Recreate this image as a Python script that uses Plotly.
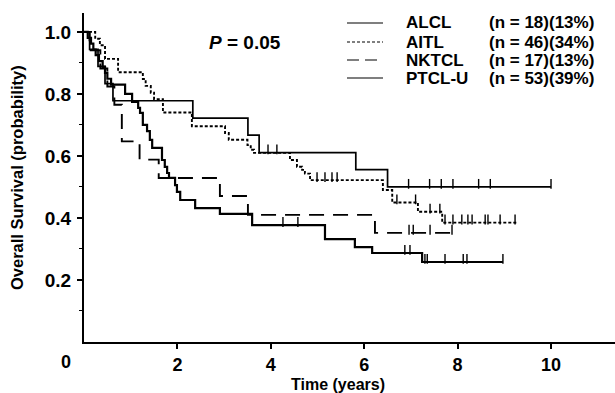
import numpy as np
import plotly.graph_objects as go

# ---------------- data ----------------
alcl_t = [0, 0.12, 0.3, 0.45, 0.62, 2.33, 3.51, 3.75, 5.82, 6.5]
alcl_s = [1.0, 0.944, 0.889, 0.833, 0.778, 0.722, 0.667, 0.611, 0.556, 0.50]
alcl_end = 10.0
alcl_cens = [3.94, 4.13, 6.95, 7.4, 7.65, 7.9, 8.45, 8.7, 10.0]

aitl_t = [0, 0.24, 0.34, 0.45, 0.73, 1.26, 1.32, 1.43, 1.5, 1.69, 2.31, 3.02, 3.1,
          3.5, 3.57, 3.64, 4.41, 4.56, 4.67, 4.73, 4.84, 6.4, 6.6, 7.15, 7.67]
aitl_s = [1.0, 0.978, 0.957, 0.913, 0.87, 0.848, 0.826, 0.804, 0.783, 0.74, 0.696, 0.674, 0.652,
          0.635, 0.62, 0.61, 0.587, 0.565, 0.555, 0.543, 0.522, 0.49, 0.45, 0.42, 0.385]
aitl_end = 9.28
aitl_cens = [4.99, 5.16, 5.31, 5.42, 6.7, 7.1, 7.41, 7.62, 7.73, 7.9, 8.09, 8.22,
             8.31, 8.59, 8.65, 8.91, 9.23]

nk_t = [0, 0.12, 0.35, 0.5, 0.65, 0.81, 1.19, 1.6, 2.91, 3.51, 6.23]
nk_s = [1.0, 0.941, 0.882, 0.824, 0.765, 0.647, 0.588, 0.529, 0.471, 0.41, 0.352]
nk_end = 7.88
nk_cens = [6.96, 7.05, 7.41, 7.88]

pt_t = [0, 0.08, 0.15, 0.2, 0.25, 0.32, 0.4, 0.45, 0.5, 0.58, 0.88, 1.03, 1.16, 1.2,
        1.26, 1.35, 1.41, 1.46, 1.67, 1.73, 1.78, 1.82, 1.95, 1.99, 2.06, 2.38, 2.91,
        3.6, 5.16, 5.8, 6.17, 7.24]
pt_s = [1.0, 0.981, 0.962, 0.943, 0.925, 0.906, 0.887, 0.868, 0.849, 0.83, 0.80, 0.774,
        0.755, 0.739, 0.70, 0.68, 0.652, 0.626, 0.587, 0.565, 0.545, 0.529, 0.506, 0.484,
        0.458, 0.432, 0.413, 0.377, 0.332, 0.306, 0.287, 0.258]
pt_end = 8.97
pt_cens = [4.26, 4.58, 6.87, 6.98, 7.3, 7.35, 7.73, 8.12, 8.2, 8.97]

series_names = ["ALCL", "AITL", "NKTCL", "PTCL-U"]
series_counts = ["(n = 18)(13%)", "(n = 46)(34%)", "(n = 17)(13%)", "(n = 53)(39%)"]
x_ticks = [2, 4, 6, 8, 10]
y_ticks = [0.2, 0.4, 0.6, 0.8, 1.0]
y_minor = [0.1, 0.3, 0.5, 0.7, 0.9]

# ---------------- figure ----------------
FONT = "Liberation Sans, Arial, sans-serif"
W, H = 615, 393
ML, MR, MT, MB = 84, 0, 13, 51
fig = go.Figure()

series = [
    (alcl_t, alcl_s, alcl_end, alcl_cens, "solid", 1.7),
    (aitl_t, aitl_s, aitl_end, aitl_cens, "3px,2px", 1.9),
    (nk_t, nk_s, nk_end, nk_cens, "15px,9px", 1.9),
    (pt_t, pt_s, pt_end, pt_cens, "solid", 2.2),
]

for name, (t, s, tend, cens, dash, w) in zip(series_names, series):
    xs = list(t) + [tend]
    ys = list(s) + [s[-1]]
    fig.add_trace(go.Scatter(x=xs, y=ys, mode="lines", line_shape="hv",
                             line=dict(color="black", width=w, dash=dash),
                             name=name, showlegend=False, hoverinfo="skip"))
    idx = np.searchsorted(np.array(t), np.array(cens), side="right") - 1
    cy = [s[i] + 0.01 for i in idx]
    fig.add_trace(go.Scatter(x=cens, y=cy, mode="markers",
                             marker=dict(symbol="line-ns", size=7,
                                         line=dict(color="black", width=1.4)),
                             showlegend=False, hoverinfo="skip"))

fig.update_layout(
    width=W, height=H,
    margin=dict(l=ML, r=MR, t=MT, b=MB),
    paper_bgcolor="white", plot_bgcolor="white",
    font=dict(family=FONT, size=17, color="black"),
    showlegend=False,
)
fig.update_xaxes(range=[0, 11.37], tickvals=x_ticks, ticktext=[str(v) for v in x_ticks],
                 showline=True, linecolor="black", linewidth=2, ticks="outside",
                 ticklen=5, tickwidth=1.5, tickcolor="black", showgrid=False, zeroline=False,
                 tickfont=dict(family=FONT, size=18, weight="bold"), ticklabelstandoff=0)
fig.update_yaxes(range=[0, 1.061], tickvals=y_ticks, ticktext=[f"{v:.1f}" for v in y_ticks],
                 showline=True, linecolor="black", linewidth=2, ticks="outside",
                 ticklen=5, tickwidth=1.5, tickcolor="black", showgrid=False, zeroline=False,
                 tickfont=dict(family=FONT, size=19, weight="bold"), ticklabelstandoff=2,
                 minor=dict(tickvals=y_minor, ticks="outside", ticklen=3, tickwidth=1.2,
                            tickcolor="black"))


def px(x, y):
    # pixel position in the image -> paper coords
    pw, ph = W - ML - MR, H - MT - MB
    return (x - ML) / pw, (H - MB - y) / ph


def text_at(x, y, text, size=19, angle=0, xanchor="center"):
    xx, yy = px(x, y)
    fig.add_annotation(x=xx, y=yy, xref="paper", yref="paper", text=text,
                       textangle=angle, showarrow=False,
                       font=dict(family=FONT, color="black", size=size),
                       xanchor=xanchor, yanchor="middle")


text_at(66, 362, "<b>0</b>", size=18)
text_at(17, 178, "<b>Overall Survival (probability)</b>", size=16.5, angle=-90)
text_at(338, 384.5, "<b>Time (years)</b>", size=16)
text_at(245, 42, "<b><i>P</i> = 0.05</b>")

# legend (manual)
rows_y = [23, 42, 60, 78]
dashes = ["solid", "3px,2px", "12px,6px", "solid"]
for name, cnt, ry, d in zip(series_names, series_counts, rows_y, dashes):
    x0, y0 = px(347, ry)
    x1, _ = px(383, ry)
    fig.add_shape(type="line", xref="paper", yref="paper", x0=x0, x1=x1, y0=y0, y1=y0,
                  line=dict(color="black", width=1.2, dash=d))
    text_at(404, ry, f"<b>{name}</b>", size=17, xanchor="left")
    text_at(596, ry, f"<b>{cnt}</b>", size=17, xanchor="right")

fig.write_html("out.html")
